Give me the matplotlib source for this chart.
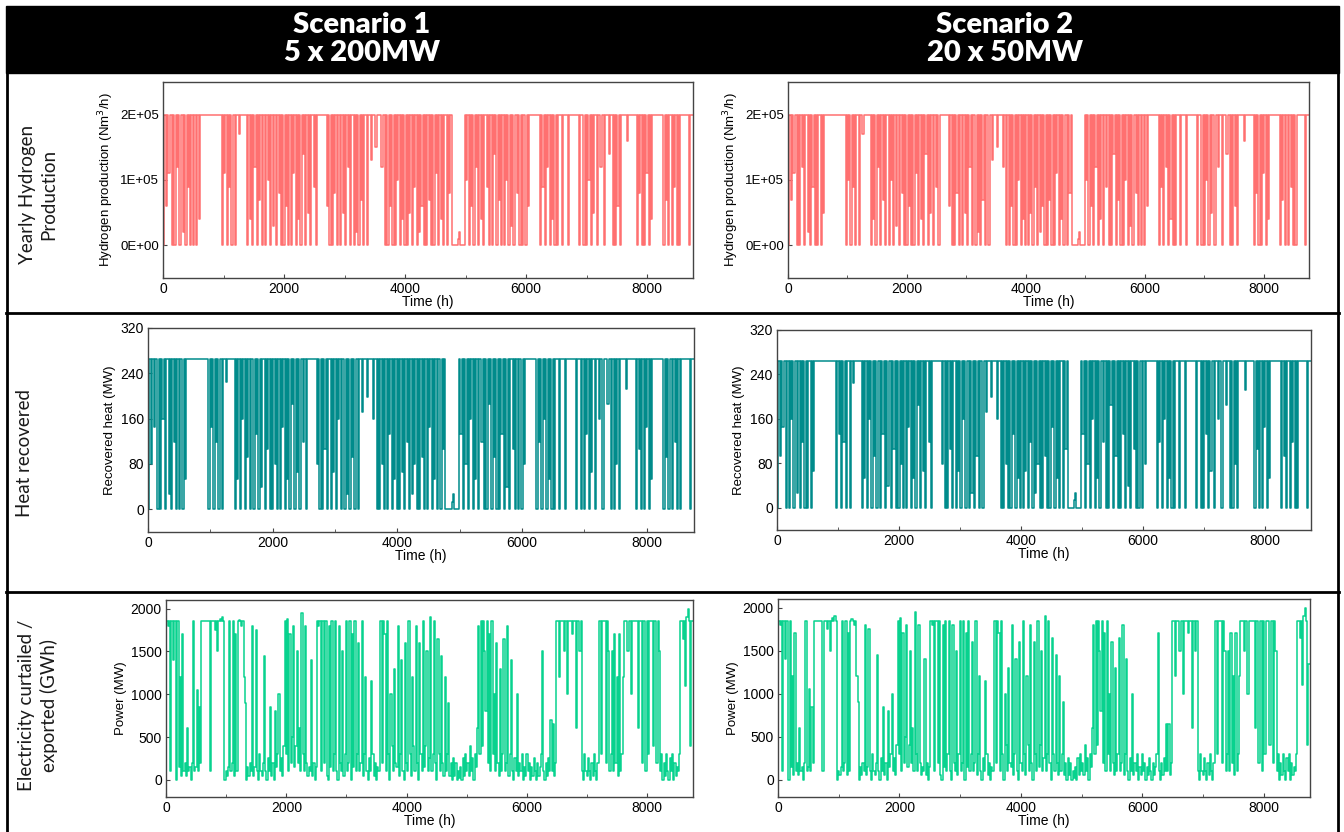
import numpy as np
import matplotlib
matplotlib.use('Agg')
import matplotlib.pyplot as plt
from matplotlib.patches import Rectangle
from matplotlib.lines import Line2D
from matplotlib.ticker import FuncFormatter, MultipleLocator

W, H = 1344, 832
STEP = 20  # hours between read-off points

scenarios = ['Scenario 1\n5 x 200MW', 'Scenario 2\n20 x 50MW']
row_labels = ['Yearly Hydrogen\nProduction', 'Heat recovered',
              'Electricity curtailed /\nexported (GWh)']

H2_RATED = 2.0e5     # Nm3/h at full electrolyser load
HEAT_RATED = 265     # MW at full electrolyser load

# electrolyser load (% of rated), one value every 20 h (20 values per row = 400 h)
load_s1 = [
    0, 100, 100, 30, 100, 55, 100, 100, 0, 100, 0, 100, 60, 100, 0, 100, 100, 10, 100, 0,
    100, 45, 100, 0, 100, 0, 100, 100, 0, 100, 20, 100, 100, 100, 100, 100, 100, 100, 100, 100,
    100, 100, 100, 100, 100, 100, 100, 100, 100, 0, 100, 55, 100, 0, 100, 45, 100, 0, 100, 100,
    0, 100, 100, 85, 100, 100, 100, 100, 100, 100, 0, 100, 20, 100, 0, 100, 60, 100, 0, 100,
    35, 100, 0, 100, 100, 0, 100, 50, 100, 0, 100, 15, 100, 100, 0, 100, 40, 100, 0, 100,
    0, 100, 30, 100, 0, 100, 0, 100, 55, 100, 0, 100, 20, 100, 0, 100, 70, 100, 0, 100,
    25, 100, 0, 100, 100, 45, 100, 0, 100, 100, 100, 100, 100, 100, 100, 100, 30, 100, 0, 100,
    0, 100, 40, 100, 0, 100, 100, 0, 100, 25, 100, 0, 100, 60, 100, 0, 100, 100, 0, 100,
    10, 100, 0, 100, 35, 100, 0, 100, 100, 0, 100, 100, 65, 100, 100, 100, 75, 100, 100, 100,
    100, 60, 100, 100, 0, 100, 0, 100, 30, 100, 0, 100, 0, 100, 50, 100, 0, 100, 20, 100,
    0, 100, 0, 100, 25, 100, 0, 100, 45, 100, 0, 100, 10, 100, 30, 100, 0, 100, 0, 100,
    35, 100, 0, 100, 0, 100, 55, 100, 0, 100, 20, 100, 0, 100, 100, 0, 100, 40, 100, 0,
    0, 0, 0, 0, 5, 10, 0, 0, 0, 0, 100, 50, 100, 0, 100, 30, 100, 0, 100, 60,
    100, 0, 100, 20, 100, 0, 100, 100, 45, 100, 0, 100, 0, 100, 70, 100, 0, 100, 35, 100,
    0, 100, 0, 100, 50, 100, 0, 100, 15, 100, 0, 100, 100, 40, 100, 0, 100, 0, 100, 100,
    0, 100, 30, 100, 100, 100, 100, 100, 100, 100, 100, 100, 0, 100, 45, 100, 0, 100, 60, 100,
    0, 100, 20, 100, 0, 100, 0, 100, 100, 100, 0, 100, 100, 100, 100, 0, 100, 100, 100, 100,
    100, 100, 100, 100, 0, 100, 100, 100, 0, 100, 0, 100, 50, 100, 0, 100, 25, 100, 100, 0,
    100, 100, 60, 100, 100, 0, 100, 100, 100, 70, 100, 100, 0, 100, 0, 100, 30, 100, 0, 100,
    100, 100, 100, 100, 80, 100, 100, 100, 100, 100, 100, 100, 0, 100, 40, 100, 0, 100, 0, 100,
    55, 100, 0, 100, 20, 100, 100, 100, 100, 100, 100, 100, 100, 100, 0, 100, 35, 100, 0, 100,
    100, 0, 100, 45, 100, 0, 100, 0, 100, 100, 100, 100, 100, 100, 100, 0, 100, 100,
]
load_s2 = [
    0, 100, 100, 35, 100, 55, 100, 100, 0, 100, 0, 100, 60, 100, 0, 100, 100, 10, 100, 0,
    100, 45, 100, 0, 100, 0, 100, 100, 0, 100, 25, 100, 100, 100, 100, 100, 100, 100, 100, 100,
    100, 100, 100, 100, 100, 100, 100, 100, 100, 0, 100, 50, 100, 0, 100, 45, 100, 0, 100, 100,
    0, 100, 100, 85, 100, 100, 100, 100, 100, 100, 0, 100, 20, 100, 0, 100, 60, 100, 0, 100,
    35, 100, 0, 100, 100, 0, 100, 50, 100, 0, 100, 15, 100, 100, 0, 100, 40, 100, 0, 100,
    0, 100, 30, 100, 0, 100, 0, 100, 55, 100, 0, 100, 20, 100, 0, 100, 70, 100, 0, 100,
    25, 100, 0, 100, 100, 45, 100, 0, 100, 100, 100, 100, 100, 100, 100, 100, 30, 100, 0, 100,
    0, 100, 40, 100, 0, 100, 100, 0, 100, 25, 100, 0, 100, 60, 100, 0, 100, 100, 0, 100,
    10, 100, 0, 100, 35, 100, 0, 100, 100, 0, 100, 100, 65, 100, 100, 100, 75, 100, 100, 100,
    100, 60, 100, 100, 0, 100, 0, 100, 30, 100, 0, 100, 0, 100, 50, 100, 0, 100, 20, 100,
    0, 100, 0, 100, 25, 100, 0, 100, 45, 100, 0, 100, 10, 100, 30, 100, 0, 100, 0, 100,
    35, 100, 0, 100, 0, 100, 55, 100, 0, 100, 20, 100, 0, 100, 100, 0, 100, 40, 100, 0,
    0, 0, 0, 0, 5, 10, 0, 0, 0, 0, 100, 50, 100, 0, 100, 30, 100, 0, 100, 60,
    100, 0, 100, 20, 100, 0, 100, 100, 45, 100, 0, 100, 0, 100, 70, 100, 0, 100, 35, 100,
    0, 100, 0, 100, 50, 100, 0, 100, 15, 100, 0, 100, 100, 40, 100, 0, 100, 0, 100, 100,
    0, 100, 30, 100, 100, 100, 100, 100, 100, 100, 100, 100, 0, 100, 45, 100, 0, 100, 60, 100,
    0, 100, 20, 100, 0, 100, 0, 100, 100, 100, 0, 100, 100, 100, 100, 0, 100, 100, 100, 100,
    100, 100, 100, 100, 0, 100, 100, 100, 0, 100, 0, 100, 50, 100, 0, 100, 25, 100, 100, 0,
    100, 100, 60, 100, 100, 0, 100, 100, 100, 70, 100, 100, 0, 100, 0, 100, 30, 100, 0, 100,
    100, 100, 100, 100, 80, 100, 100, 100, 100, 100, 100, 100, 0, 100, 40, 100, 0, 100, 0, 100,
    55, 100, 0, 100, 20, 100, 100, 100, 100, 100, 100, 100, 100, 100, 0, 100, 35, 100, 0, 100,
    100, 0, 100, 45, 100, 0, 100, 0, 100, 100, 100, 100, 100, 100, 100, 0, 100, 100,
]

# curtailed / exported power (MW), one value every 20 h
power_s1 = [
    1850, 1850, 1800, 1850, 100, 1850, 1400, 1850, 1850, 0, 1850, 150, 1200, 50, 1700, 100, 200, 50, 600, 100,
    150, 0, 200, 1850, 100, 150, 1050, 100, 850, 200, 1850, 1850, 1850, 1850, 1850, 1850, 1850, 100, 1850, 1850,
    1850, 1750, 1850, 1500, 1850, 1880, 1850, 1900, 1850, 0, 100, 50, 150, 1850, 100, 200, 1850, 50, 1700, 100,
    1850, 1870, 1850, 1800, 1850, 1200, 900, 0, 150, 50, 200, 100, 1800, 50, 150, 1750, 100, 0, 300, 100,
    50, 200, 1450, 100, 0, 250, 100, 850, 50, 200, 0, 800, 150, 300, 1000, 100, 250, 50, 400, 1850,
    300, 1880, 100, 1700, 200, 500, 1800, 150, 400, 1500, 200, 600, 100, 1950, 300, 100, 1800, 200, 50, 150,
    100, 1400, 50, 200, 0, 150, 1850, 1800, 1850, 100, 1850, 1850, 200, 1850, 50, 0, 1800, 150, 1850, 100,
    300, 1850, 100, 0, 1800, 200, 100, 1500, 50, 300, 1850, 100, 200, 1850, 0, 1700, 150, 1850, 100, 300,
    1600, 100, 200, 1850, 50, 300, 1200, 100, 0, 250, 100, 1150, 300, 50, 200, 0, 150, 100, 1850, 1850,
    200, 1850, 1700, 100, 1850, 300, 0, 1000, 400, 100, 1300, 200, 150, 1800, 50, 300, 1400, 100, 0, 1600,
    200, 100, 1850, 300, 50, 1200, 400, 100, 1800, 200, 0, 1600, 300, 100, 1850, 150, 400, 1500, 100, 250,
    1900, 100, 300, 1850, 200, 0, 1650, 300, 100, 1450, 200, 50, 1200, 100, 300, 900, 50, 200, 0, 250,
    50, 200, 0, 100, 20, 150, 0, 250, 50, 300, 100, 200, 50, 400, 100, 250, 0, 300, 150, 600,
    1800, 300, 1850, 400, 1850, 1500, 800, 1850, 200, 1700, 100, 1850, 300, 1000, 100, 1600, 200, 50, 1300, 100,
    300, 1650, 100, 200, 1800, 50, 300, 1400, 100, 0, 250, 100, 1000, 50, 200, 100, 300, 0, 150, 50,
    300, 100, 200, 0, 150, 50, 250, 100, 0, 200, 50, 150, 300, 1500, 100, 0, 200, 50, 250, 100,
    700, 100, 650, 50, 200, 1850, 1850, 1200, 1850, 1850, 1850, 1500, 1850, 1850, 1000, 1850, 1850, 1850, 1700, 1850,
    1850, 600, 1850, 1850, 1500, 1850, 100, 0, 300, 100, 50, 250, 100, 0, 200, 50, 300, 100, 0, 200,
    1850, 1850, 300, 1850, 1850, 1850, 200, 1850, 1500, 100, 300, 1500, 100, 1700, 200, 1200, 50, 1700, 100, 300,
    1200, 1850, 1850, 1850, 1500, 1850, 1850, 1000, 1850, 1850, 1850, 1850, 1850, 600, 1850, 1850, 200, 1850, 1850, 100,
    1850, 300, 1850, 1850, 1850, 400, 1850, 1850, 200, 1850, 1500, 100, 300, 0, 200, 50, 300, 100, 0, 250,
    100, 300, 0, 200, 50, 150, 100, 300, 1850, 1850, 1650, 1850, 1100, 1900, 2000, 1850, 400, 1850,
]
power_s2 = [
    1850, 1850, 1800, 1850, 100, 1850, 1400, 1850, 1850, 0, 1850, 150, 1200, 50, 1700, 100, 200, 50, 600, 100,
    150, 0, 200, 1850, 100, 150, 1050, 100, 850, 200, 1850, 1850, 1850, 1850, 1850, 1850, 1850, 100, 1850, 1850,
    1850, 1750, 1850, 1500, 1850, 1880, 1850, 1900, 1850, 0, 100, 50, 150, 1850, 100, 200, 1850, 50, 1700, 100,
    1850, 1870, 1850, 1800, 1850, 1200, 900, 0, 150, 50, 200, 100, 1800, 50, 150, 1750, 100, 0, 300, 100,
    50, 200, 1450, 100, 0, 250, 100, 850, 50, 200, 0, 800, 150, 300, 1000, 100, 250, 50, 400, 1850,
    300, 1880, 100, 1700, 200, 500, 1800, 150, 400, 1500, 200, 600, 100, 1950, 300, 100, 1800, 200, 50, 150,
    100, 1400, 50, 200, 0, 150, 1850, 1800, 1850, 100, 1850, 1850, 200, 1850, 50, 0, 1800, 150, 1850, 100,
    300, 1850, 100, 0, 1800, 200, 100, 1500, 50, 300, 1850, 100, 200, 1850, 0, 1700, 150, 1850, 100, 300,
    1600, 100, 200, 1850, 50, 300, 1200, 100, 0, 250, 100, 1150, 300, 50, 200, 0, 150, 100, 1850, 1850,
    200, 1850, 1700, 100, 1850, 300, 0, 1000, 400, 100, 1300, 200, 150, 1800, 50, 300, 1400, 100, 0, 1600,
    200, 100, 1850, 300, 50, 1200, 400, 100, 1800, 200, 0, 1600, 300, 100, 1850, 150, 400, 1500, 100, 250,
    1900, 100, 300, 1850, 200, 0, 1650, 300, 100, 1450, 200, 50, 1200, 100, 300, 900, 50, 200, 0, 250,
    50, 200, 0, 100, 20, 150, 0, 250, 50, 300, 100, 200, 50, 400, 100, 250, 0, 300, 150, 600,
    1800, 300, 1850, 400, 1850, 1500, 800, 1850, 200, 1700, 100, 1850, 300, 1000, 100, 1600, 200, 50, 1300, 100,
    300, 1650, 100, 200, 1800, 50, 300, 1400, 100, 0, 250, 100, 1000, 50, 200, 100, 300, 0, 150, 50,
    300, 100, 200, 0, 150, 50, 250, 100, 0, 200, 50, 150, 300, 1700, 100, 0, 200, 50, 250, 100,
    650, 100, 650, 50, 200, 1850, 1850, 1200, 1850, 1850, 1850, 1500, 1850, 1850, 1000, 1850, 1850, 1850, 1700, 1850,
    1850, 600, 1850, 1850, 1500, 1850, 100, 0, 300, 100, 50, 250, 100, 0, 200, 50, 300, 100, 0, 200,
    1850, 1850, 300, 1850, 1850, 1850, 200, 1850, 1500, 100, 300, 1500, 100, 1700, 200, 1200, 50, 1700, 100, 300,
    1200, 1850, 1850, 1850, 1500, 1850, 1850, 1000, 1850, 1850, 1850, 1850, 1850, 600, 1850, 1850, 200, 1850, 1850, 100,
    1850, 300, 1850, 1850, 1850, 400, 1850, 1850, 200, 1850, 1500, 100, 300, 0, 200, 50, 300, 100, 0, 250,
    100, 300, 0, 200, 50, 150, 100, 300, 1850, 1850, 1650, 1850, 1100, 1900, 2000, 1850, 400, 1350,
]

x_ticks = [0, 2000, 4000, 6000, 8000]
h2_ticks = [0, 1e5, 2e5]
heat_ticks = [0, 80, 160, 240, 320]
power_ticks = [0, 500, 1000, 1500, 2000]

H2_COLOR = '#ff7070'
HEAT_COLOR = '#008b8b'
POWER_COLOR = '#08d28e'

# axes boxes in pixels: (left, right, top, bottom)
boxes = {
    (0, 0): (163, 693, 82, 278), (0, 1): (788, 1309, 82, 278),
    (1, 0): (148, 694, 328, 532), (1, 1): (777, 1311, 330, 530),
    (2, 0): (166, 693, 600, 797), (2, 1): (778, 1310, 599, 797),
}

plt.rcParams['font.family'] = ['Liberation Sans', 'DejaVu Sans']
fig = plt.figure(figsize=(W / 100, H / 100), dpi=100)


def add_axes(box):
    l, r, t, b = box
    return fig.add_axes([l / W, 1 - b / H, (r - l) / W, (b - t) / H])


def line_plot(ax, vals, color, scale=1.0):
    hours = np.arange(len(vals) + 1) * STEP
    y = np.append(np.asarray(vals, float), vals[-1]) * scale
    ax.plot(hours, y, color=color, lw=1.1, drawstyle='steps-mid')


def style(ax, ylabel, yticks, ylim):
    ax.set_xlim(0, 8760)
    ax.set_ylim(*ylim)
    ax.set_xticks(x_ticks)
    ax.xaxis.set_minor_locator(MultipleLocator(1000))
    ax.set_yticks(yticks)
    ax.tick_params(which='both', direction='in', labelsize=10, pad=3,
                   color='#444444')
    ax.tick_params(which='major', length=3)
    ax.tick_params(which='minor', length=2)
    for s in ax.spines.values():
        s.set_color('#444444')
        s.set_linewidth(1.0)
    ax.set_xlabel('Time (h)', fontsize=10, labelpad=-1)
    ax.set_ylabel(ylabel, fontsize=9.5, labelpad=3)


loads = [load_s1, load_s2]
powers = [power_s1, power_s2]

for c in range(2):
    ax = add_axes(boxes[(0, c)])
    line_plot(ax, loads[c], H2_COLOR, H2_RATED / 100)
    style(ax, 'Hydrogen production (Nm$^3$/h)', h2_ticks, (-0.5e5, 2.5e5))
    ax.yaxis.set_major_formatter(FuncFormatter(lambda v, p: f'{v:.0E}'))
    ax.tick_params(axis='y', labelsize=9.5)

    ax = add_axes(boxes[(1, c)])
    line_plot(ax, loads[c], HEAT_COLOR, HEAT_RATED / 100)
    style(ax, 'Recovered heat (MW)', heat_ticks, (-40, 320))

    ax = add_axes(boxes[(2, c)])
    line_plot(ax, powers[c], POWER_COLOR)
    style(ax, 'Power (MW)', power_ticks, (-200, 2100))

# table frame
fig.add_artist(Rectangle((6 / W, 1 - 73 / H), (1339 - 6) / W, 67 / H,
                         transform=fig.transFigure, color='black', zorder=0))
for x in (7, 1338):
    fig.add_artist(Line2D([x / W, x / W], [1 - 73 / H, 0], transform=fig.transFigure,
                          color='black', lw=2))
for y in (313, 592):
    fig.add_artist(Line2D([6 / W, 1339 / W], [1 - y / H, 1 - y / H],
                          transform=fig.transFigure, color='black', lw=2))

for x, txt in zip((362, 1005), scenarios):
    fig.text(x / W, 1 - 39 / H, txt, ha='center', va='center', color='white',
             fontsize=21, fontweight='heavy', family=['Lato', 'DejaVu Sans'],
             linespacing=1.05)

for (x, y), txt in zip([(38, 194), (25, 453), (38, 705)], row_labels):
    fig.text(x / W, 1 - y / H, txt, ha='center', va='center', rotation=90,
             fontsize=13.5, fontweight='normal', family=['Lato', 'DejaVu Sans'],
             linespacing=1.3, color='#1a1a1a')

fig.savefig('out.png', dpi=100)
